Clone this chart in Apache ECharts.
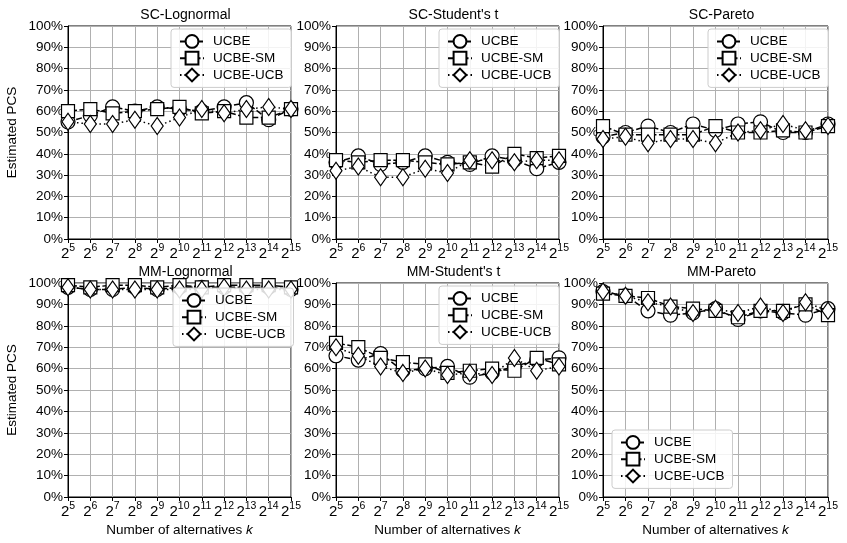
<!DOCTYPE html>
<html><head><meta charset="utf-8">
<script src="https://cdn.jsdelivr.net/npm/echarts@6/dist/echarts.min.js"></script>
<style>html,body{margin:0;padding:0;background:#fff}#c{width:847px;height:543px}</style>
</head><body><div id="c"></div>
<script>
var exponents = [5,6,7,8,9,10,11,12,13,14,15];
var yTicks = [0,10,20,30,40,50,60,70,80,90,100];
var seriesNames = ['UCBE','UCBE-SM','UCBE-UCB'];
var panelTitles = ['SC-Lognormal',"SC-Student's t",'SC-Pareto','MM-Lognormal',"MM-Student's t",'MM-Pareto'];

var scLogUCBE = [55,58,62,60,62,61,60,62,64,56,61];
var scLogSM   = [60,61,59,60,61,62,59,60,57,57,61];
var scLogUCB  = [55,54,54,56,53,57,61,59,61,62,61];

var scStuUCBE = [36,39,35,36,39,36,35,39,37,33,36];
var scStuSM   = [37,36,37,37,36,35,36,34,40,38,39];
var scStuUCB  = [32,34,29,29,33,31,37,37,36,37,37];

var scParUCBE = [48,50,53,50,54,51,54,55,50,50,54];
var scParSM   = [53,49,49,49,49,53,50,50,51,50,53];
var scParUCB  = [47,48,45,47,47,45,50,51,54,51,53];

var mmLogUCBE = [98,97,97,98,97,98,98,98,98,98,97];
var mmLogSM   = [99,98,99,99,98,99,98,99,99,99,98];
var mmLogUCB  = [98,97,97,97,97,97,97,98,97,97,97];

var mmStuUCBE = [66,64,67,59,60,61,56,58,61,64,65];
var mmStuSM   = [72,70,65,63,62,58,59,60,59,65,62];
var mmStuUCB  = [70,66,61,58,60,57,58,57,65,59,61];

var mmParUCBE = [96,94,87,85,86,88,83,87,86,85,88];
var mmParSM   = [95,94,93,89,88,87,84,87,87,90,85];
var mmParUCB  = [96,94,91,89,86,88,86,89,86,91,87];

var panelData = [
  [scLogUCBE, scLogSM, scLogUCB],
  [scStuUCBE, scStuSM, scStuUCB],
  [scParUCBE, scParSM, scParUCB],
  [mmLogUCBE, mmLogSM, mmLogUCB],
  [mmStuUCBE, mmStuSM, mmStuUCB],
  [mmParUCBE, mmParSM, mmParUCB]
];

var categories = exponents.map(function(e){ return '2^' + e; });
var FONT = 'Liberation Sans';
var cols = [{l:68,w:223},{l:336,w:223},{l:603,w:225}];
var rows = [{t:26,h:213},{t:283,h:214}];
var symbols = ['circle','rect','diamond'];
var symSizes = [14,13,[12,17]];
var lineTypes = [[6,2.5],[9,2.5],[1.5,3]];

var grids=[], xAxes=[], yAxes=[], series=[], titles=[], legends=[];
for (var p=0;p<6;p++){
  var r = Math.floor(p/3), c = p%3;
  grids.push({left:cols[c].l, top:rows[r].t, width:cols[c].w, height:rows[r].h,
    show:true, borderColor:'#000', borderWidth:1, backgroundColor:'transparent'});
  xAxes.push({type:'category', gridIndex:p, data:categories, boundaryGap:false,
    axisLine:{show:true, lineStyle:{color:'#000', width:1}},
    axisTick:{show:true, alignWithLabel:true, length:4, lineStyle:{color:'#000'}},
    splitLine:{show:true, lineStyle:{color:'#b0b0b0', width:1}},
    axisLabel:{interval:0, margin:4, color:'#000',
      formatter:function(v){ var e=v.split('^')[1]; return '{b|2}{s|'+e+'}'; },
      rich:{b:{fontFamily:FONT,fontSize:15,color:'#000',verticalAlign:'bottom',lineHeight:18},
            s:{fontFamily:FONT,fontSize:10.5,color:'#000',verticalAlign:'top',padding:[0,0,9,0],lineHeight:18}}},
    name: r===1 ? 'Number of alternatives {i|k}' : '',
    nameLocation:'middle', nameGap:26,
    nameTextStyle:{fontFamily:FONT,fontSize:13.5,color:'#000',
      rich:{i:{fontFamily:FONT,fontSize:13.5,fontStyle:'italic',color:'#000'}}}
  });
  yAxes.push({type:'value', gridIndex:p, min:0, max:100, interval:10,
    axisLine:{show:true, lineStyle:{color:'#000', width:1}},
    axisTick:{show:true, length:4, lineStyle:{color:'#000'}},
    splitLine:{show:true, lineStyle:{color:'#b0b0b0', width:1}},
    axisLabel:{margin:5, color:'#000', fontFamily:FONT, fontSize:13.5,
      formatter:function(v){ return yTicks.indexOf(v)>=0 ? v+'%' : ''; }},
    name: c===0 ? 'Estimated PCS' : '', nameLocation:'middle', nameGap:49,
    nameTextStyle:{fontFamily:FONT,fontSize:13.5,color:'#000'}
  });
  titles.push({text:panelTitles[p], left:cols[c].l+cols[c].w/2+1, top:rows[r].t-23, textAlign:'center',
    textStyle:{fontFamily:FONT,fontSize:14,fontWeight:'normal',color:'#000'}});
  for (var s=0;s<3;s++){
    series.push({type:'line', name:seriesNames[s], xAxisIndex:p, yAxisIndex:p,
      data:panelData[p][s], symbol:symbols[s], symbolSize:symSizes[s], showAllSymbol:true,
      z:2+s,
      lineStyle:{color:'#000', width:1.5, type:lineTypes[s]},
      itemStyle:{color:'#fff', borderColor:'#000', borderWidth:1.2},
      emphasis:{disabled:true}, animation:false});
  }
  var leg = {orient:'vertical', data:seriesNames.map(function(n){return {name:n};}),
    itemWidth:24, itemHeight:16, itemGap:2, padding:[5,8,5,8],
    backgroundColor:'rgba(255,255,255,0.85)', borderColor:'#ccc', borderWidth:1, borderRadius:3,
    textStyle:{fontFamily:FONT,fontSize:13.5,color:'#000',padding:[0,0,0,4]},
    selectedMode:false, z:10};
  if (p===5){ leg.left = cols[c].l+9; leg.top = rows[r].t+147; }
  else if (p===3){ leg.left = cols[c].l+cols[c].w-118; leg.top = rows[r].t+5; }
  else { leg.left = cols[c].l+cols[c].w-120; leg.top = rows[r].t+3; }
  legends.push(leg);
}

var chart = echarts.init(document.getElementById('c'), null, {renderer:'canvas'});
chart.setOption({
  backgroundColor:'#fff', animation:false,
  title:titles, grid:grids, xAxis:xAxes, yAxis:yAxes, legend:legends, series:series
});
</script></body></html>
